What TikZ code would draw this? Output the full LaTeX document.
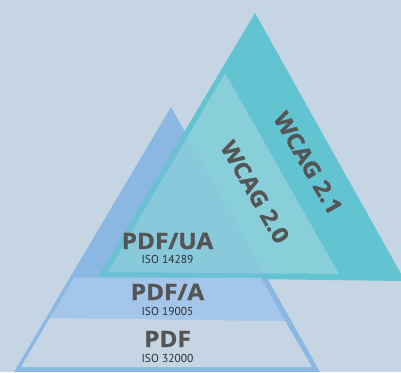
\documentclass[tikz,border=0pt]{standalone}
\usepackage{fontspec}
\setmainfont{PT Sans}
\newfontfamily\headfont[BoldFeatures={FakeBold=1.2,FakeStretch=1.08}]{Open Sans}
\usepackage{tikz}
\usetikzlibrary{positioning}
\definecolor{pagebg}{HTML}{C5D5E4}
\definecolor{uablue}{HTML}{8AB8E3}
\definecolor{ablue}{HTML}{A4C6EA}
\definecolor{wcagteal}{HTML}{62C3D1}
\definecolor{wcaglight}{HTML}{89CFDA}
\definecolor{titlegray}{HTML}{555555}
\definecolor{isogray}{HTML}{2E2E2E}

\begin{document}
\begin{tikzpicture}[x=1pt,y=-1pt,
    title/.style={font=\headfont\bfseries\fontsize{22.5}{22.5}\selectfont,text=titlegray,inner sep=0pt},
    iso/.style={font=\fontsize{11.5}{11.5}\selectfont,text=isogray,inner sep=0pt},
    wcag/.style={title,rotate=-60},
]
    \fill[pagebg] (0,0) rectangle (401,372);
    \useasboundingbox (0,0) rectangle (401,372);

    % pdf pyramid, outer shape
    \fill[uablue] (171,107) -- (14,372) -- (320,372) -- cycle;

    % wcag triangles
    \fill[wcagteal] (255,13) -- (98,277) -- (405,281) -- cycle;
    \fill[wcaglight] (225,73) -- (108,272) -- (339,274) -- cycle;
    \begin{scope}
        \clip (255,13) -- (98,277) -- (405,281) -- cycle;
        \fill[uablue,opacity=0.25] (171,107) -- (14,372) -- (320,372) -- cycle;
    \end{scope}

    % pdf bands
    \fill[ablue] (74,277.5) -- (261,278) -- (285,321) -- (50,318) -- cycle;
    \fill[pagebg] (50,318) -- (285,321) -- (312,367) -- (21,367) -- cycle;

    \node[title,anchor=base] (ua) at (167.5,249) {PDF/UA};
    \node[iso,anchor=base] (uaiso) at (167.5,263) {ISO 14289};
    \node[title,anchor=base] (pdfa) at (167.5,300) {PDF/A};
    \node[iso,anchor=base] (pdfaiso) at (167.5,315) {ISO 19005};
    \node[title,anchor=base] (pdf) at (167.5,347) {PDF};
    \node[iso,anchor=base] (pdfiso) at (167.5,362) {ISO 32000};

    \node[wcag] (wcagb) at (308,163) {WCAG 2.1};
    \node[wcag] (wcaga) at (255,192) {WCAG 2.0};
\end{tikzpicture}
\end{document}
